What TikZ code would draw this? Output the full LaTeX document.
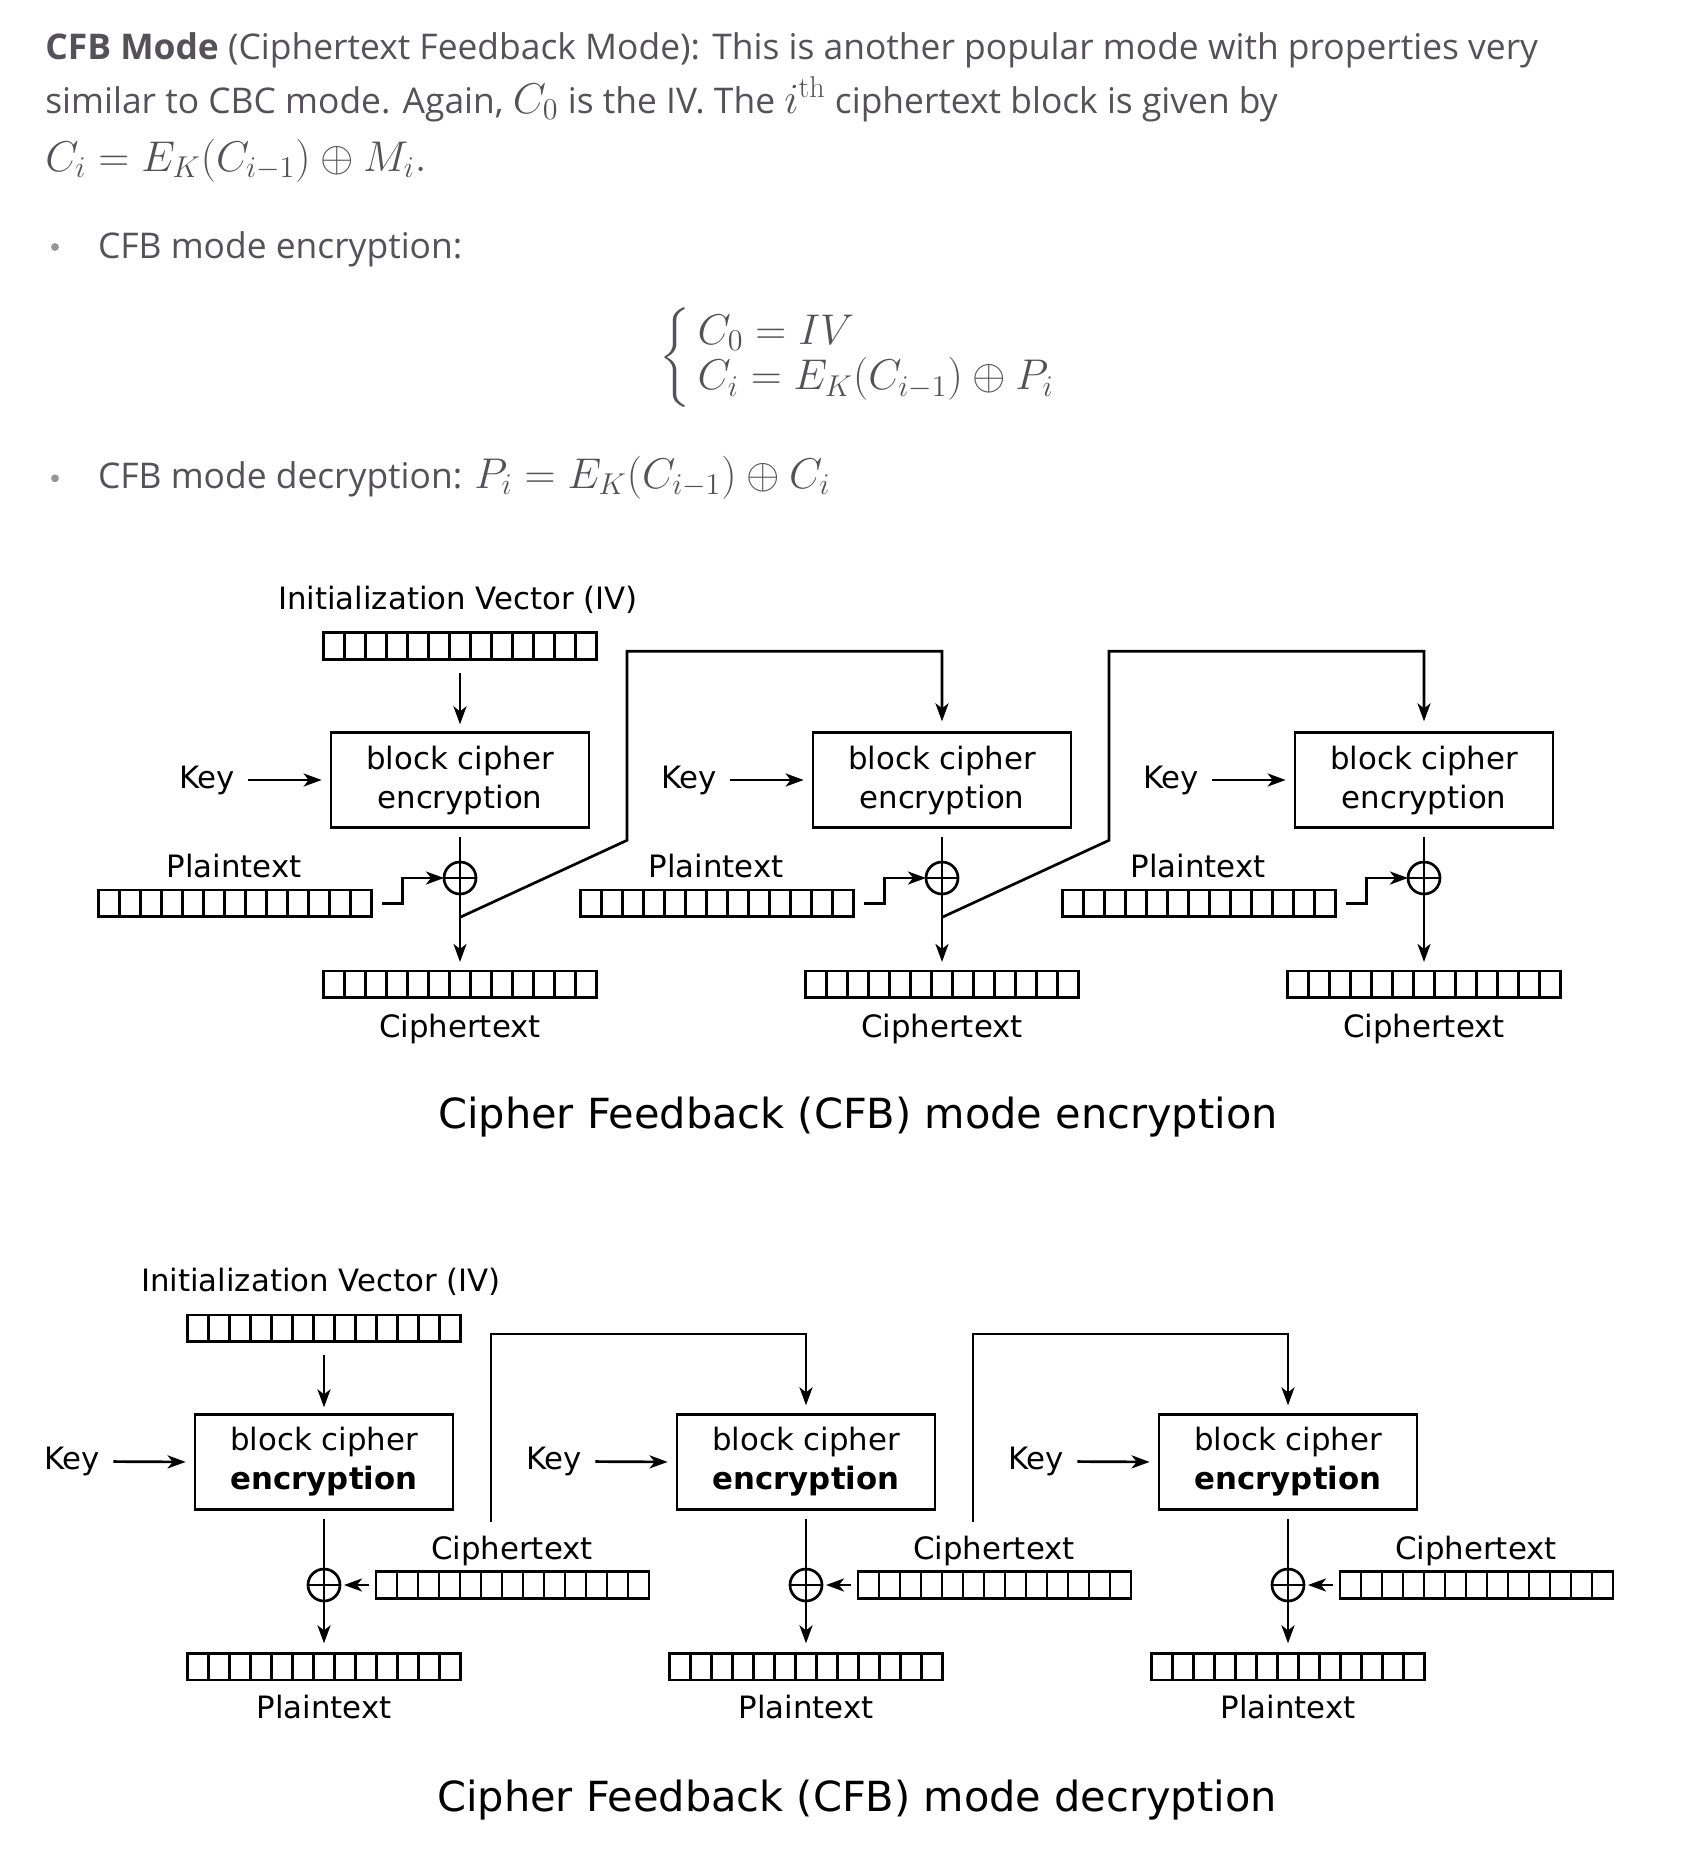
\RequirePackage{fix-cm}
\documentclass[tikz,border=0pt]{standalone}
\usepackage{fontspec}
\usepackage{amsmath}
\usetikzlibrary{arrows.meta,calc}
\newfontfamily\dejavu{DejaVu Sans}
\newfontfamily\segoe{Open Sans}
\definecolor{txt}{RGB}{84,82,88}
\definecolor{bul}{RGB}{150,150,150}
\newcommand\mf{\fontsize{21.5}{24}\selectfont}
\begin{document}
\begin{tikzpicture}[x=0.5pt,y=-0.5pt,line width=1.35pt,
  arr/.style={-{Stealth[length=9pt,width=6.5pt,inset=2.5pt]}},
  cbox/.style={draw,rectangle,minimum width=129pt,minimum height=47.3pt,inner sep=0pt,align=center,
    font=\dejavu\fontsize{15.4}{19.5}\selectfont},
  reg/.style={draw,rectangle,minimum width=136.5pt,minimum height=13.35pt,inner sep=0pt,outer sep=0pt,
    path picture={\foreach \i in {1,...,12}{\draw ($(path picture bounding box.south west)!\i/13!(path picture bounding box.south east)$) -- ($(path picture bounding box.north west)!\i/13!(path picture bounding box.north east)$);}}},
  xorn/.style={draw,circle,minimum size=16pt,inner sep=0pt,outer sep=0pt,
    path picture={\draw (path picture bounding box.north) -- (path picture bounding box.south) (path picture bounding box.west) -- (path picture bounding box.east);}},
  lbl/.style={font=\dejavu\fontsize{15.4}{18}\selectfont,inner sep=0pt},
  ttl/.style={font=\dejavu\fontsize{20.75}{24}\selectfont,inner sep=0pt},
  body/.style={anchor=base west,inner sep=0pt,text=txt,font=\segoe\fontsize{17.7}{22}\selectfont},
  bdot/.style={circle,fill=bul,minimum size=3.9pt,inner sep=0pt}
]
\fill[white] (0,0) rectangle (1702,1869);
\useasboundingbox (0,0) rectangle (1702,1869);

% ---------- text ----------
\node[body] (t1) at (44,59.3) {\textbf{CFB Mode} (Ciphertext Feedback Mode): This is another popular mode with properties very};
\node[body] (t2) at (44,113.3) {similar to CBC mode. Again, {\mf $C_0$} is the IV. The {\mf $i^{\mathrm{th}}$} ciphertext block is given by};
\node[body] (t3) at (44,171) {\mf $C_i = E_K(C_{i-1}) \oplus M_i.$};
\node[bdot] (d1) at (55,247) {};
\node[body] (b1) at (96.7,258) {CFB mode encryption:};
\node[body] (cases) at (658,368.75) {\fontsize{21.5}{22.5}\selectfont\renewcommand{\arraystretch}{1}$\left\{\begin{array}{@{\,}l@{}} C_0 = IV \\ C_i = E_K(C_{i-1}) \oplus P_i \end{array}\right.$};
\node[bdot] (d2) at (55,478.3) {};
\node[body] (b2) at (96.7,488) {CFB mode decryption: {\mf $P_i = E_K(C_{i-1}) \oplus C_i$}};

% ---------- encryption ----------
\node[lbl] (ivEl) at (458,600) {Initialization Vector (IV)};
\node[reg] (ivE) at (460,646) {};
\foreach \k/\n in {0/1,1/2,2/3}{
  \begin{scope}[xshift=482*\k*0.5pt]
  \node[cbox] (bE\n) at (460,780) {block cipher\\encryption};
  \node[lbl] (kE\n) at (207,780) {Key};
  \node[xorn] (xE\n) at (460,878) {};
  \node[reg] (pE\n) at (235,903.3) {};
  \node[lbl] (pEl\n) at (234,866) {Plaintext};
  \node[reg] (cE\n) at (460,984.3) {};
  \node[lbl] (cEl\n) at (460,1028.5) {Ciphertext};
  \coordinate (fE\n) at (460,917.3);
  \end{scope}
  \draw[arr,shorten <=6pt,shorten >=4pt] (kE\n.east) -- (bE\n.west);
  \draw[shorten <=4pt] (bE\n.south) -- (xE\n.north);
  \draw[arr,shorten >=4.5pt] (xE\n.south) -- (cE\n.north);
  \draw[arr,shorten <=5.25pt] (pE\n.east) -- ++(31,0) |- (xE\n.west);
}
\draw[arr,shorten <=6.7pt,shorten >=3.5pt] (ivE.south) -- (bE1.north);
\draw[arr,shorten >=5pt] (fE1) -- ++(167,-77) -- ++(0,-189) -| (bE2.north);
\draw[arr,shorten >=5pt] (fE2) -- ++(167,-77) -- ++(0,-189) -| (bE3.north);
\node[ttl] (tE) at (858,1117.5) {Cipher Feedback (CFB) mode encryption};

% ---------- decryption ----------
\node[lbl] (ivDl) at (321,1281.7) {Initialization Vector (IV)};
\node[reg] (ivD) at (324,1328.3) {};
\foreach \k/\n in {0/1,1/2,2/3}{
  \begin{scope}[xshift=482*\k*0.5pt]
  \node[cbox] (bD\n) at (324,1462) {block cipher\\\textbf{encryption}};
  \node[lbl] (kD\n) at (72,1461.5) {Key};
  \node[xorn] (xD\n) at (324,1585) {};
  \node[reg] (cD\n) at (512.5,1585) {};
  \node[lbl] (cDl\n) at (512,1550.5) {Ciphertext};
  \node[reg] (pD\n) at (324,1666.7) {};
  \node[lbl] (pDl\n) at (324,1706.7) {Plaintext};
  \coordinate (fD\n) at (491,1521.7);
  \end{scope}
  \draw[arr,shorten <=6pt,shorten >=4pt] (kD\n.east) -- (bD\n.west);
  \draw[shorten <=4pt] (bD\n.south) -- (xD\n.north);
  \draw[arr,shorten >=5pt] (xD\n.south) -- (pD\n.north);
  \draw[arr,shorten <=3.5pt,shorten >=2pt] (cD\n.west) -- (xD\n.east);
}
\draw[arr,shorten <=6.7pt,shorten >=3pt] (ivD.south) -- (bD1.north);
\draw[arr,shorten >=4pt] (fD1) -- ++(0,-187.7) -| (bD2.north);
\draw[arr,shorten >=4pt] (fD2) -- ++(0,-187.7) -| (bD3.north);
\node[ttl] (tD) at (857,1800.5) {Cipher Feedback (CFB) mode decryption};
\end{tikzpicture}
\end{document}
